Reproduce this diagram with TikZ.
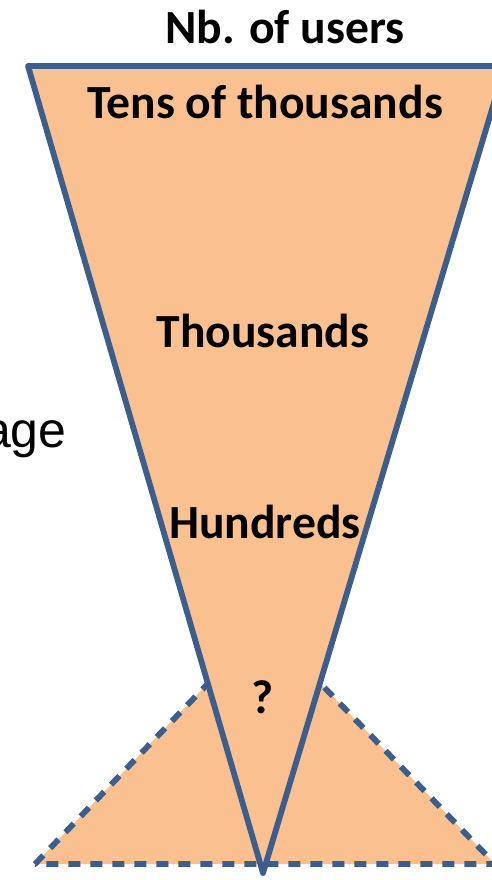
\documentclass[tikz,border=0pt]{standalone}
\usepackage{fontspec}
\setmainfont{Carlito}
\newfontfamily\arialfont{Liberation Sans}
\definecolor{funnelfill}{HTML}{FAC090}
\definecolor{funnelline}{HTML}{3B5E8C}

\begin{document}
\begin{tikzpicture}[x=0.5pt,y=-0.5pt,
    lbl/.style={font=\bfseries\fontsize{23.8}{28}\selectfont, anchor=base, inner sep=0pt}]
            \useasboundingbox (0,0) rectangle (492,880);
            \clip (0,0) rectangle (492,880);

            \coordinate (TL) at (28,66);
            \coordinate (TR) at (505,66);
            \coordinate (A) at (263,873);
            \coordinate (BL) at (35,864);
            \coordinate (BR) at (495,864);
            \coordinate (P) at (264,625);

            % lower (dashed) triangle first
            \filldraw[fill=funnelfill, draw=funnelline, line width=2.9pt,
                dash pattern=on 6pt off 5pt]
                (BL)--(P)--(BR)--cycle;

            \filldraw[fill=funnelfill, draw=funnelline, line width=2.9pt, line join=round]
                (TL)--(TR)--(A)--cycle;

            \node[lbl] (users) at (285,43) {Nb. of users};
            \node[lbl] (tens) at (265,118) {Tens of thousands};
            \node[lbl] (thousands) at (263,347) {Thousands};
            \node[lbl] (hundreds) at (265,538) {Hundreds};
            \node[lbl] (unknown) at (263,713) {?};
            \node[font=\arialfont\fontsize{25}{30}\selectfont, anchor=base east, inner sep=0pt]
                (usage) at (67,447) {age};
        \end{tikzpicture}
\end{document}
